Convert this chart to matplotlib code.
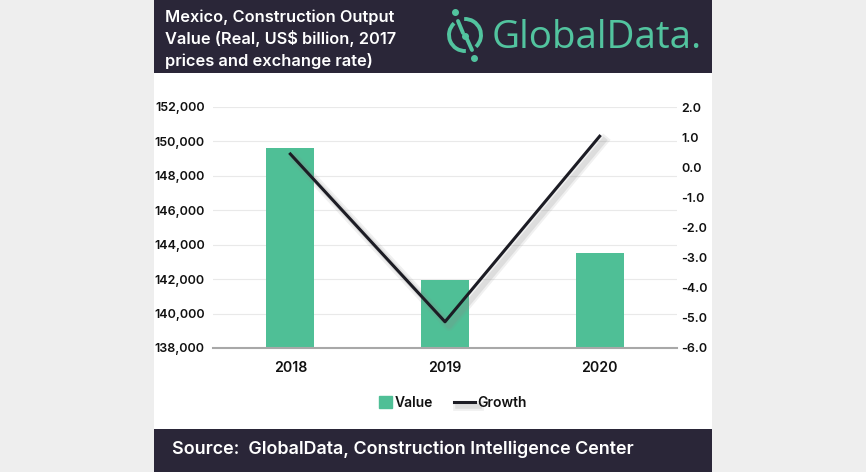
import matplotlib
matplotlib.use("Agg")
import matplotlib.pyplot as plt
import matplotlib.patches as mpatches
import matplotlib.patheffects as pe
from matplotlib.lines import Line2D
from matplotlib.legend_handler import HandlerPatch
from matplotlib.ticker import FuncFormatter

# data
years = ["2018", "2019", "2020"]
value = [149620, 141960, 143520]   # US$ billion
growth = [0.44, -5.13, 1.03]       # %

left_ticks = [138000, 140000, 142000, 144000, 146000, 148000, 150000, 152000]
right_ticks = [-6, -5, -4, -3, -2, -1, 0, 1, 2]

title = "Mexico, Construction Output\nValue (Real, US$ billion, 2017\nprices and exchange rate)"
source = "Source:  GlobalData, Construction Intelligence Center"

GREEN = "#4fbf96"
DARK = "#2a2638"
LOGO = "#52c49f"
FONT = ["Inter", "DejaVu Sans"]

plt.rcParams["font.family"] = FONT

W, H = 866, 472
fig = plt.figure(figsize=(W / 100, H / 100), dpi=100)
fig.patch.set_facecolor("#eeeeee")

# background overlay in pixel coordinates
bg = fig.add_axes([0, 0, 1, 1], zorder=0)
bg.set_xlim(0, W)
bg.set_ylim(H, 0)
bg.axis("off")
bg.add_patch(mpatches.Rectangle((154, 0), 558, 429, color="white", lw=0))
bg.add_patch(mpatches.Rectangle((154, 0), 558, 73, color=DARK, lw=0))
bg.add_patch(mpatches.Rectangle((154, 429), 558, 43, color=DARK, lw=0))
bg.text(165, 39, title, color="white", fontsize=11.8, fontweight="semibold",
        va="center", ha="left", linespacing=1.42)
bg.text(172, 449, source, color="white", fontsize=12.9, fontweight="semibold",
        va="center", ha="left")

# logo
cx, cy, r = 465, 35, 16
bg.add_patch(mpatches.Arc((cx, cy), 2 * r, 2 * r, theta1=87, theta2=227, color=LOGO, lw=2.8))
bg.add_patch(mpatches.Arc((cx, cy), 2 * r, 2 * r, theta1=267, theta2=407, color=LOGO, lw=2.8))
bg.plot([458, 463], [21, 33], color=LOGO, lw=2.8, solid_capstyle="round")
bg.plot([467, 472], [39, 50], color=LOGO, lw=2.8, solid_capstyle="round")
bg.plot([455, 474, 465], [12, 58, 36], "o", color=LOGO, ms=4)
bg.text(492, 38, "GlobalData.", color=LOGO, fontsize=27.8, fontweight="medium",
        va="center", ha="left", family=["Open Sans", "DejaVu Sans"])

# chart
ax = fig.add_axes([213 / W, 1 - 348 / H, (677 - 213) / W, (348 - 107) / H], zorder=2)
ax.patch.set_alpha(0)
x = range(len(years))
ax.bar(x, value, width=0.31, color=GREEN, zorder=2)
ax.set_xlim(-0.5, 2.5)
ax.set_ylim(left_ticks[0], left_ticks[-1])
ax.set_yticks(left_ticks)
ax.yaxis.set_major_formatter(FuncFormatter(lambda v, p: f"{v:,.0f}"))
ax.set_xticks(list(x))
ax.set_xticklabels(years)
ax.grid(axis="y", color="#e9e9e9", lw=0.8, zorder=0)
ax.set_axisbelow(True)
for s in ["top", "left", "right"]:
    ax.spines[s].set_visible(False)
ax.spines["bottom"].set_color("#a8a8a8")
ax.spines["bottom"].set_linewidth(1.5)
ax.tick_params(length=0, labelsize=9, pad=6)
ax.tick_params(axis="x", labelsize=10.2, pad=9)
for t in ax.get_xticklabels() + ax.get_yticklabels():
    t.set_fontweight("semibold")
    t.set_color("#111111")

ax2 = ax.twinx()
ax2.set_ylim(right_ticks[0], right_ticks[-1])
ax2.set_yticks(right_ticks)
ax2.yaxis.set_major_formatter(FuncFormatter(lambda v, p: f"{v:.1f}"))
for s in ["top", "left", "right", "bottom"]:
    ax2.spines[s].set_visible(False)
ax2.tick_params(length=0, labelsize=9, pad=3)
for t in ax2.get_yticklabels():
    t.set_fontweight("semibold")
    t.set_color("#111111")
shadow = [pe.SimpleLineShadow(offset=(3, -3), shadow_color="#888888", alpha=0.12, linewidth=7),
          pe.SimpleLineShadow(offset=(3, -3), shadow_color="#888888", alpha=0.18, linewidth=4),
          pe.Normal()]
ax2.plot(list(x), growth, color="#1c1c24", lw=2.2, zorder=3, path_effects=shadow)

# legend
def square(legend, orig_handle, xdescent, ydescent, width, height, fontsize):
    s = height * 1.3
    return mpatches.Rectangle((-xdescent + width - s, -ydescent - 0.15 * height), s, s)

handles = [mpatches.Patch(color=GREEN, label="Value"),
           Line2D([], [], color="#1c1c24", lw=2.2, label="Growth", path_effects=shadow)]
leg = fig.legend(handles=handles, loc="center", bbox_to_anchor=(449 / W, 1 - 403 / H), ncol=2,
                 frameon=False, fontsize=10, handlelength=1.5, handletextpad=0.2,
                 columnspacing=1.5, handler_map={mpatches.Patch: HandlerPatch(patch_func=square)})
for t in leg.get_texts():
    t.set_fontweight("semibold")
    t.set_color("#111111")

fig.savefig("out.png", dpi=100, facecolor=fig.get_facecolor())
